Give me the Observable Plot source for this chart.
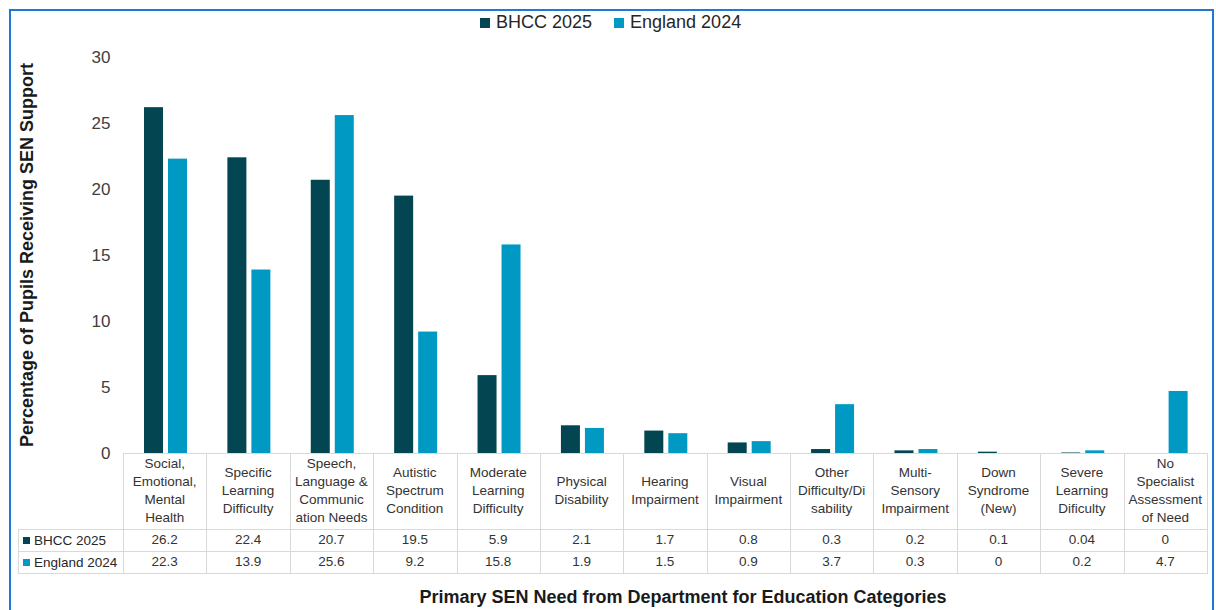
<!DOCTYPE html>
<html><head><meta charset="utf-8">
<script src="https://cdn.jsdelivr.net/npm/d3@7"></script>
<script src="https://cdn.jsdelivr.net/npm/@observablehq/plot@0.6"></script>
<style>
body{margin:0;background:#fff;font-family:"Liberation Sans",Arial,sans-serif;}
#wrap{position:relative;width:1216px;height:610px;overflow:hidden;background:#fff;}
#frame{position:absolute;left:9px;top:9px;width:1205px;height:640px;border:2px solid #2079D0;box-sizing:border-box;}
#chart{position:absolute;left:0;top:0;}
#legend{position:absolute;top:12px;left:480px;display:flex;font-size:18px;color:#262626;}
#legend .item{display:flex;align-items:center;margin-right:22px;}
#legend .sw{width:10px;height:10px;margin-right:6px;}
#ytitle{position:absolute;left:27px;top:255px;transform:translate(-50%,-50%) rotate(-90deg);white-space:nowrap;font-weight:bold;font-size:18px;color:#1a1a1a;}
#xtitle{position:absolute;left:0;width:1216px;top:587px;text-align:center;font-weight:bold;font-size:18px;color:#1a1a1a;padding-left:150px;box-sizing:border-box;}
.cell{position:absolute;box-sizing:border-box;display:flex;align-items:center;justify-content:center;text-align:center;font-size:13.5px;color:#333;line-height:18px;white-space:pre-line;}
.hl{position:absolute;height:1px;background:#d9d9d9;}
.vl{position:absolute;width:1px;background:#d9d9d9;}
.rowlab{position:absolute;font-size:13.5px;color:#262626;display:flex;align-items:center;}
.rowlab .sw{width:7px;height:7px;margin-right:4px;}
</style>
</head><body>
<div id="wrap">
  <div id="frame"></div>
  <div id="chart"></div>
  <div id="legend"></div>
  <div id="ytitle">Percentage of Pupils Receiving SEN Support</div>
  <div id="table"></div>
  <div id="xtitle">Primary SEN Need from Department for Education Categories</div>
</div>
<script>
const categories = [
  "Social,\nEmotional,\nMental\nHealth",
  "Specific\nLearning\nDifficulty",
  "Speech,\nLanguage &\nCommunic\nation Needs",
  "Autistic\nSpectrum\nCondition",
  "Moderate\nLearning\nDifficulty",
  "Physical\nDisability",
  "Hearing\nImpairment",
  "Visual\nImpairment",
  "Other\nDifficulty/Di\nsability",
  "Multi-\nSensory\nImpairment",
  "Down\nSyndrome\n(New)",
  "Severe\nLearning\nDificulty",
  "No\nSpecialist\nAssessment\nof Need"
];
const seriesNames = ["BHCC 2025", "England 2024"];
const bhcc2025 = [26.2, 22.4, 20.7, 19.5, 5.9, 2.1, 1.7, 0.8, 0.3, 0.2, 0.1, 0.04, 0];
const england2024 = [22.3, 13.9, 25.6, 9.2, 15.8, 1.9, 1.5, 0.9, 3.7, 0.3, 0, 0.2, 4.7];
const bhccLabels = ["26.2","22.4","20.7","19.5","5.9","2.1","1.7","0.8","0.3","0.2","0.1","0.04","0"];
const englandLabels = ["22.3","13.9","25.6","9.2","15.8","1.9","1.5","0.9","3.7","0.3","0","0.2","4.7"];
const yTicks = [0, 5, 10, 15, 20, 25, 30];
const colors = ["#034651", "#0099C4"];

const W = 1216, mL = 123, mR = 9, mT = 57, H = 475, mB = 22;
const band = (W - mL - mR) / categories.length;

const d1 = categories.map((c, i) => ({c, v: bhcc2025[i]}));
const d2 = categories.map((c, i) => ({c, v: england2024[i]}));

const plot = Plot.plot({
  width: W, height: H,
  marginLeft: mL, marginRight: mR, marginTop: mT, marginBottom: mB,
  style: {fontFamily: '"Liberation Sans", Arial, sans-serif', fontSize: "17px", color: "#404040", background: "transparent"},
  x: {domain: categories, padding: 0, round: false, axis: null},
  y: {domain: [0, 30], axis: null},
  marks: [
    Plot.axisY({ticks: yTicks, tickSize: 0, tickPadding: 13, label: null, fontSize: 17}),
    Plot.barY(d1, {x: "c", y: "v", fill: colors[0], insetLeft: 21, insetRight: band - 40}),
    Plot.barY(d2, {x: "c", y: "v", fill: colors[1], insetLeft: 45, insetRight: band - 64})
  ]
});
document.getElementById("chart").appendChild(plot);

// legend
const leg = document.getElementById("legend");
seriesNames.forEach((s, i) => {
  const it = document.createElement("div"); it.className = "item";
  it.innerHTML = `<div class="sw" style="background:${colors[i]}"></div><span>${s}</span>`;
  leg.appendChild(it);
});

// data table aligned with Plot's x scale
const xs = plot.scale("x");
const tb = document.getElementById("table");
const top0 = H - mB, r1 = 529, r2 = 551, r3 = 573, leftT = 18;
const x0 = xs.apply(categories[0]);
const x1 = xs.apply(categories[categories.length - 1]) + xs.bandwidth;
function add(cls, style, html) {
  const d = document.createElement("div"); d.className = cls;
  Object.assign(d.style, style); if (html != null) d.textContent = html; tb.appendChild(d); return d;
}
add("hl", {left: x0 + "px", top: top0 + "px", width: (x1 - x0 + 1) + "px"});
[r1, r2, r3].forEach(y => add("hl", {left: leftT + "px", top: y + "px", width: (x1 - leftT + 1) + "px"}));
add("vl", {left: leftT + "px", top: r1 + "px", height: (r3 - r1 + 1) + "px"});
categories.forEach(c => add("vl", {left: xs.apply(c) + "px", top: top0 + "px", height: (r3 - top0 + 1) + "px"}));
add("vl", {left: x1 + "px", top: top0 + "px", height: (r3 - top0 + 1) + "px"});
categories.forEach((c, i) => {
  const l = xs.apply(c);
  add("cell", {left: l + "px", top: top0 + "px", width: xs.bandwidth + "px", height: (r1 - top0) + "px"}, c);
  add("cell", {left: l + "px", top: r1 + "px", width: xs.bandwidth + "px", height: (r2 - r1) + "px"}, bhccLabels[i]);
  add("cell", {left: l + "px", top: r2 + "px", width: xs.bandwidth + "px", height: (r3 - r2) + "px"}, englandLabels[i]);
});
[[r1, r2], [r2, r3]].forEach(([a, b], i) => {
  const d = add("rowlab", {left: (leftT + 5) + "px", top: a + "px", height: (b - a) + "px"});
  d.innerHTML = `<div class="sw" style="background:${colors[i]}"></div><span>${seriesNames[i]}</span>`;
});
</script>
</body></html>
